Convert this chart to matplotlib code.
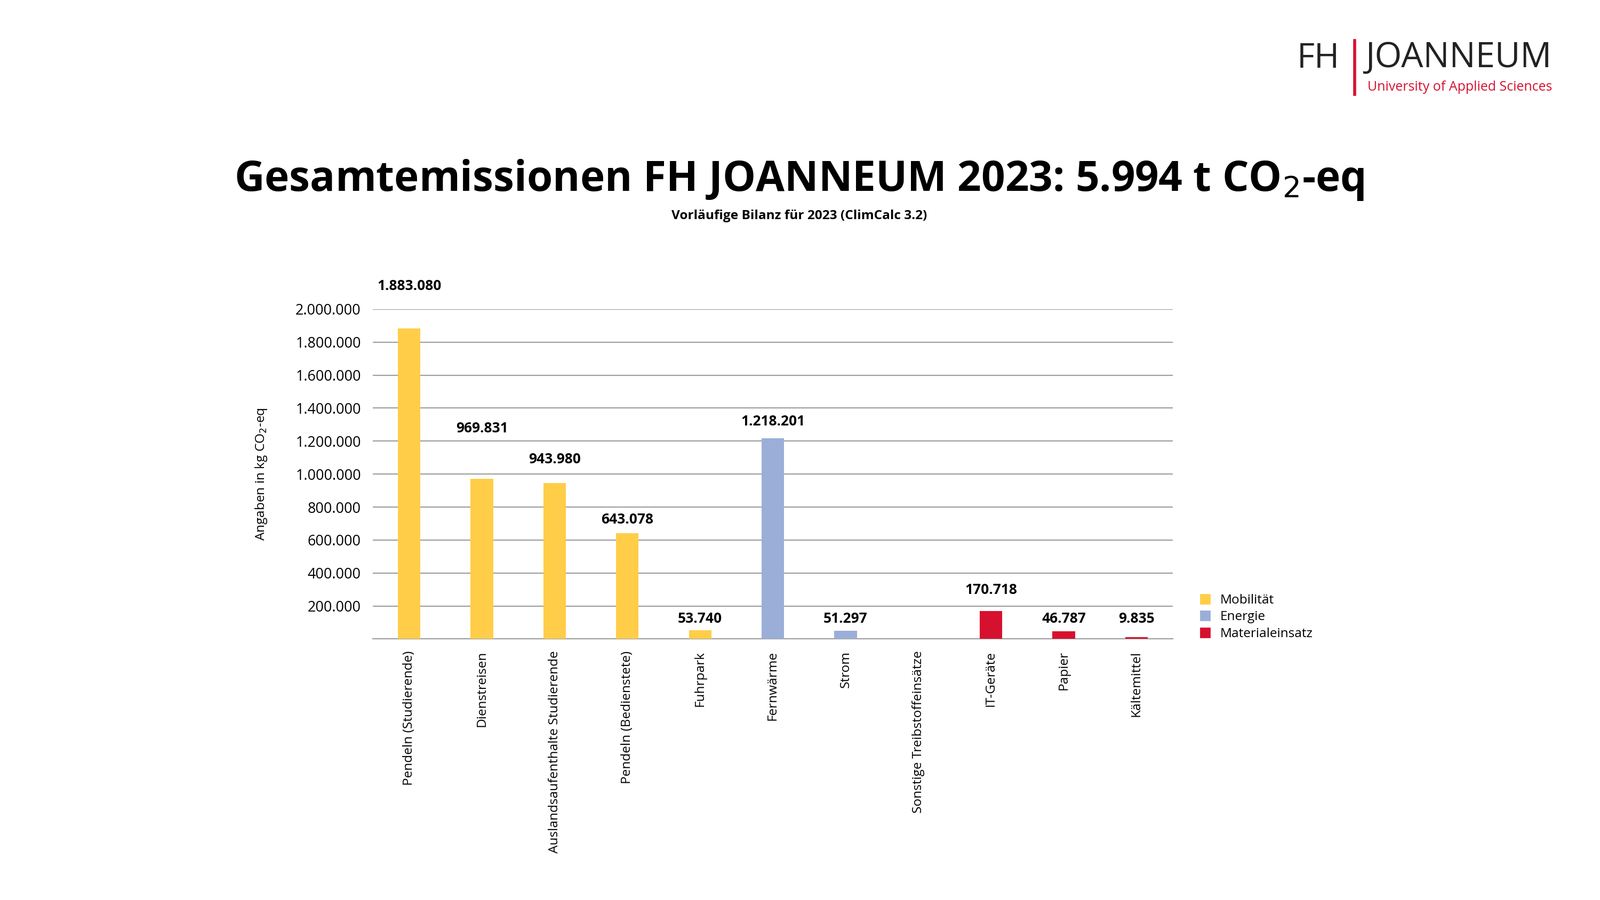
import matplotlib
matplotlib.use("Agg")
import matplotlib.pyplot as plt
from matplotlib.patches import Patch

plt.rcParams["font.family"] = "Open Sans"

categories = ["Pendeln (Studierende)", "Dienstreisen", "Auslandsaufenthalte Studierende",
              "Pendeln (Bedienstete)", "Fuhrpark", "Fernwärme", "Strom",
              "Sonstige Treibstoffeinsätze", "IT-Geräte", "Papier", "Kältemittel"]
values = [1883080, 969831, 943980, 643078, 53740, 1218201, 51297, 3000, 170718, 46787, 9835]
labels = ["1.883.080", "969.831", "943.980", "643.078", "53.740", "1.218.201", "51.297", "",
          "170.718", "46.787", "9.835"]
groups = ["Mobilität"] * 5 + ["Energie"] * 2 + ["Materialeinsatz"] * 4
label_y = [2140000, 1276000, 1090000, 724000, 124000, 1319000, 124000, 0, 297000, 124000, 124000]
yticks = [200000, 400000, 600000, 800000, 1000000, 1200000, 1400000, 1600000, 1800000, 2000000]
ytick_labels = ["200.000", "400.000", "600.000", "800.000", "1.000.000", "1.200.000",
                "1.400.000", "1.600.000", "1.800.000", "2.000.000"]
colors = {"Mobilität": "#FFCD48", "Energie": "#9BAED8", "Materialeinsatz": "#D6112F"}

fig = plt.figure(figsize=(15, 8.44), dpi=200)
ax = fig.add_axes([0.233, 0.290, 0.500, 0.3665])
x = range(len(categories))
ax.bar(x, values, width=0.31, color=[colors[g] for g in groups], zorder=3)
for i, (ly, lab) in enumerate(zip(label_y, labels)):
    ax.text(i, ly, lab, ha="center", va="center", fontsize=9.5, fontweight="bold", clip_on=False)
ax.set_xlim(-0.5, 10.5)
ax.set_ylim(0, 2000000)
ax.set_yticks(yticks)
ax.set_yticklabels(ytick_labels, fontsize=9.7)
ax.set_xticks(list(x))
ax.set_xticklabels(categories, rotation=90, fontsize=8.8)
ax.tick_params(length=0, pad=8)
ax.grid(axis="y", color="#A0A0A0", linewidth=0.8, zorder=0)
for s in ["top", "right", "left"]:
    ax.spines[s].set_visible(False)
ax.spines["bottom"].set_color("#A0A0A0")
ax.set_ylabel("Angaben in kg CO$_2$-eq", fontsize=8.8, labelpad=18)

handles = [Patch(color=colors[g]) for g in ["Mobilität", "Energie", "Materialeinsatz"]]
fig.legend(handles, ["Mobilität", "Energie", "Materialeinsatz"], loc="upper left",
           bbox_to_anchor=(0.743, 0.353), frameon=False, fontsize=8.8,
           handlelength=0.7, handleheight=0.7, labelspacing=0.3, handletextpad=0.8)

fig.text(0.4995, 0.80, "Gesamtemissionen FH JOANNEUM 2023: 5.994 t CO$_2$-eq",
         ha="center", va="center", fontsize=28.2, fontweight="bold")
fig.text(0.4995, 0.760, "Vorläufige Bilanz für 2023 (ClimCalc 3.2)", ha="center",
         va="center", fontsize=8.8, fontweight="bold")

# logo
fig.text(0.8105, 0.935, "FH", ha="left", va="center", fontsize=23, color="#222222",
         fontweight="medium")
fig.text(0.8535, 0.935, "JOANNEUM", ha="left", va="center", fontsize=23.5, color="#222222",
         fontweight="medium")
fig.add_artist(plt.Line2D([0.8465, 0.8465], [0.895, 0.955], color="#D6112F", linewidth=2))
fig.text(0.8545, 0.903, "University of Applied Sciences", ha="left", va="center",
         fontsize=9, color="#D6112F")

fig.savefig("out.png", dpi=200)
